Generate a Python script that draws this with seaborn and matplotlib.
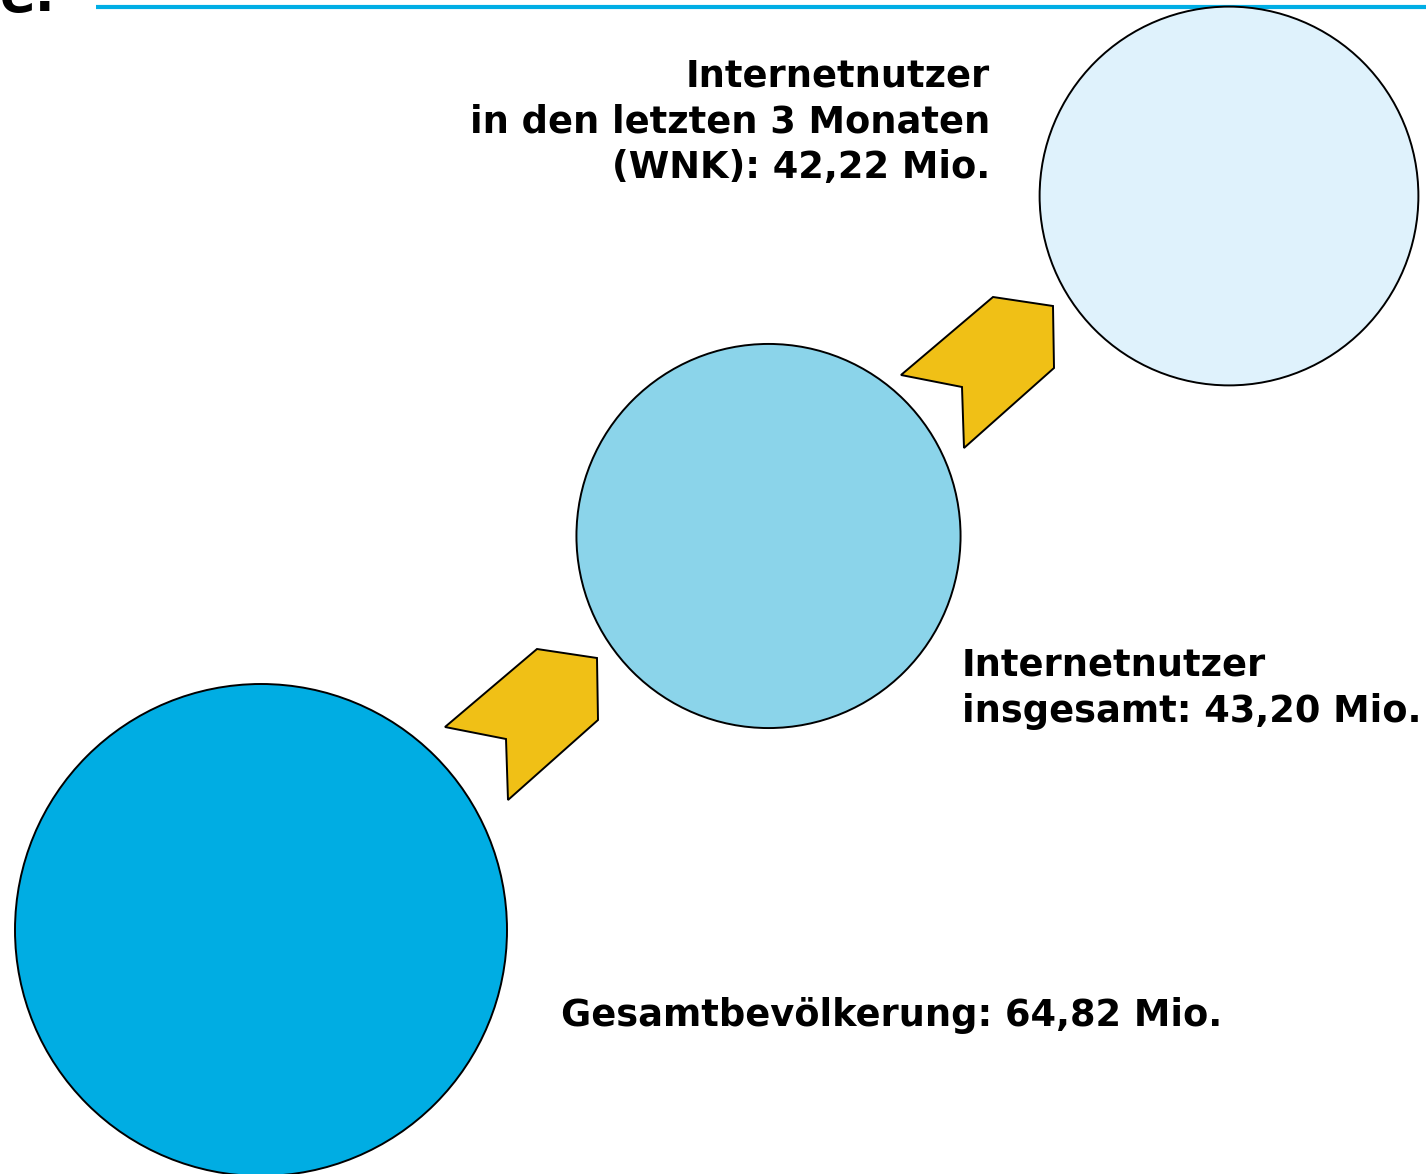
import numpy as np
import matplotlib.pyplot as plt
import seaborn as sns
from matplotlib.patches import Circle, Polygon

# data
groups = ['Gesamtbevölkerung', 'Internetnutzer insgesamt', 'Internetnutzer letzte 3 Monate (WNK)']
values = [64.82, 43.20, 42.22]   # Mio.
labels = ['Gesamtbevölkerung: 64,82 Mio.',
          'Internetnutzer\ninsgesamt: 43,20 Mio.',
          'Internetnutzer\nin den letzten 3 Monaten\n(WNK): 42,22 Mio.']
colors = ['#00ADE3', '#8BD4EA', '#DFF2FC']

sns.set_theme(style='white')
plt.rcParams['font.family'] = ['DejaVu Sans']
plt.rcParams['text.color'] = 'black'

fig = plt.figure(figsize=(14.26, 11.74), dpi=100)
ax = fig.add_axes([0, 0, 1, 1])
ax.set_xlim(0, 1426)
ax.set_ylim(1174, 0)
ax.set_aspect('equal')
ax.axis('off')

# layout (pixel space)
centers = [(261, 930), (768.5, 536), (1229, 196)]
r_max = 246
radii = [r_max * (v / max(values)) ** 0.61 for v in values]

for (cx, cy), r, c in zip(centers, radii, colors):
    ax.add_patch(Circle((cx, cy), r, facecolor=c, edgecolor='black', lw=1.4, zorder=2))

# chevron arrows between circles
arrow_shape = np.array([(-76, 3), (16, -75), (76, -66), (77, -4), (-13, 76), (-15, 15)])
arrow_pos = [(521, 724), (977, 372)]
for ax_, ay in arrow_pos:
    ax.add_patch(Polygon(arrow_shape + [ax_, ay], closed=True, facecolor='#F0C016',
                         edgecolor='black', lw=1.4, zorder=2))

# labels (baseline = last line)
fs = 26.5
ax.text(561, 1026, labels[0], fontsize=fs, fontweight='bold', ha='left', va='baseline')
ax.text(962, 722, labels[1], fontsize=fs, fontweight='bold', ha='left', va='baseline',
        linespacing=1.32)
ax.text(990, 178, labels[2], fontsize=fs, fontweight='bold', ha='right', va='baseline',
        linespacing=1.30, multialignment='right')

# header rule and cut-off heading fragment
ax.plot([96, 1426], [7, 7], color='#00AEE5', lw=3, solid_capstyle='butt', zorder=1)
ax.text(0, 11, 'e.', fontsize=38, fontweight='bold', ha='left', va='baseline')

fig.savefig('out.png', dpi=100)
